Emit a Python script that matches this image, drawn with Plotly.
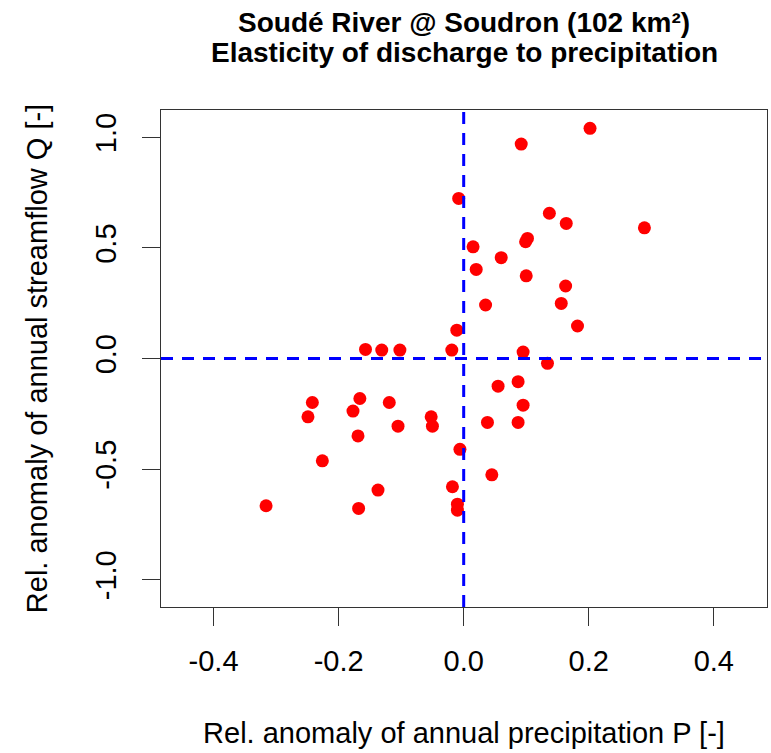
import plotly.graph_objects as go

# Relative anomalies of annual precipitation (P) and streamflow (Q)
p_anom = [0.202, 0.092, -0.008, 0.137, 0.164, 0.289, 0.102, 0.099, 0.015, 0.060,
          0.020, 0.100, 0.163, 0.156, 0.035, 0.182, -0.011, -0.019, -0.157, -0.131,
          -0.102, 0.095, 0.134, 0.087, 0.055, 0.095, 0.038, 0.087, -0.006, 0.045,
          -0.018, -0.010, -0.010, -0.242, -0.166, -0.119, -0.177, -0.249, -0.052,
          -0.105, -0.050, -0.169, -0.226, -0.137, -0.316, -0.168]
q_anom = [1.041, 0.970, 0.724, 0.657, 0.611, 0.591, 0.543, 0.528, 0.505, 0.456,
          0.403, 0.374, 0.328, 0.249, 0.242, 0.147, 0.128, 0.038, 0.041, 0.038,
          0.038, 0.029, -0.022, -0.105, -0.125, -0.211, -0.289, -0.289, -0.411, -0.526,
          -0.580, -0.659, -0.686, -0.199, -0.181, -0.199, -0.238, -0.264, -0.264,
          -0.306, -0.306, -0.350, -0.463, -0.595, -0.666, -0.678]

x_ticks = [-0.4, -0.2, 0.0, 0.2, 0.4]
x_ticklabels = ["-0.4", "-0.2", "0.0", "0.2", "0.4"]
y_ticks = [-1.0, -0.5, 0.0, 0.5, 1.0]
y_ticklabels = ["-1.0", "-0.5", "0.0", "0.5", "1.0"]

title_lines = ["Soudé River @ Soudron (102 km²)",
               "Elasticity of discharge to precipitation"]

FONT = "Liberation Sans, Arial, sans-serif"
AX = "#333333"

fig = go.Figure()
fig.add_trace(go.Scatter(
    x=p_anom, y=q_anom, mode="markers",
    marker=dict(color="#ff0000", size=13, line=dict(width=0)),
    showlegend=False, hoverinfo="x+y",
))

# Reference lines through the origin
fig.add_shape(type="line", xref="x", yref="paper", x0=0, x1=0, y0=0, y1=1,
              line=dict(color="#0000ff", width=3, dash="12px,9px"))
fig.add_shape(type="line", xref="paper", yref="y", x0=0, x1=1, y0=0, y1=0,
              line=dict(color="#0000ff", width=3, dash="12px,9px"))

# Two-line bold heading above the plot
for txt, ypos in zip(title_lines, [1.176, 1.1155]):
    fig.add_annotation(text=f"<b>{txt}</b>", xref="paper", yref="paper",
                       x=0.5, y=ypos, xanchor="center", yanchor="middle",
                       showarrow=False,
                       font=dict(family=FONT, size=28, color="black"))

fig.update_layout(
    width=771, height=753,
    margin=dict(l=161, r=4, t=110, b=146),
    paper_bgcolor="white", plot_bgcolor="white",
    font=dict(family=FONT, color="black", size=29),
    xaxis=dict(
        range=[-0.484, 0.485], tickvals=x_ticks, ticktext=x_ticklabels,
        ticks="outside", ticklen=18, tickwidth=1, tickcolor=AX,
        showline=True, linecolor=AX, linewidth=1, mirror=True,
        showgrid=False, zeroline=False, ticklabelstandoff=10,
        tickfont=dict(size=29),
        title=dict(text="Rel. anomaly of annual precipitation P [-]",
                   font=dict(size=29), standoff=46),
    ),
    yaxis=dict(
        range=[-1.124, 1.124], tickvals=y_ticks, ticktext=y_ticklabels,
        ticks="outside", ticklen=18, tickwidth=1, tickcolor=AX,
        showline=True, linecolor=AX, linewidth=1, mirror=True,
        showgrid=False, zeroline=False, tickangle=-90, ticklabelstandoff=14,
        tickfont=dict(size=29),
        title=dict(text="Rel. anomaly of annual streamflow Q [-]",
                   font=dict(size=29), standoff=34),
    ),
)

fig.write_html("out.html")
